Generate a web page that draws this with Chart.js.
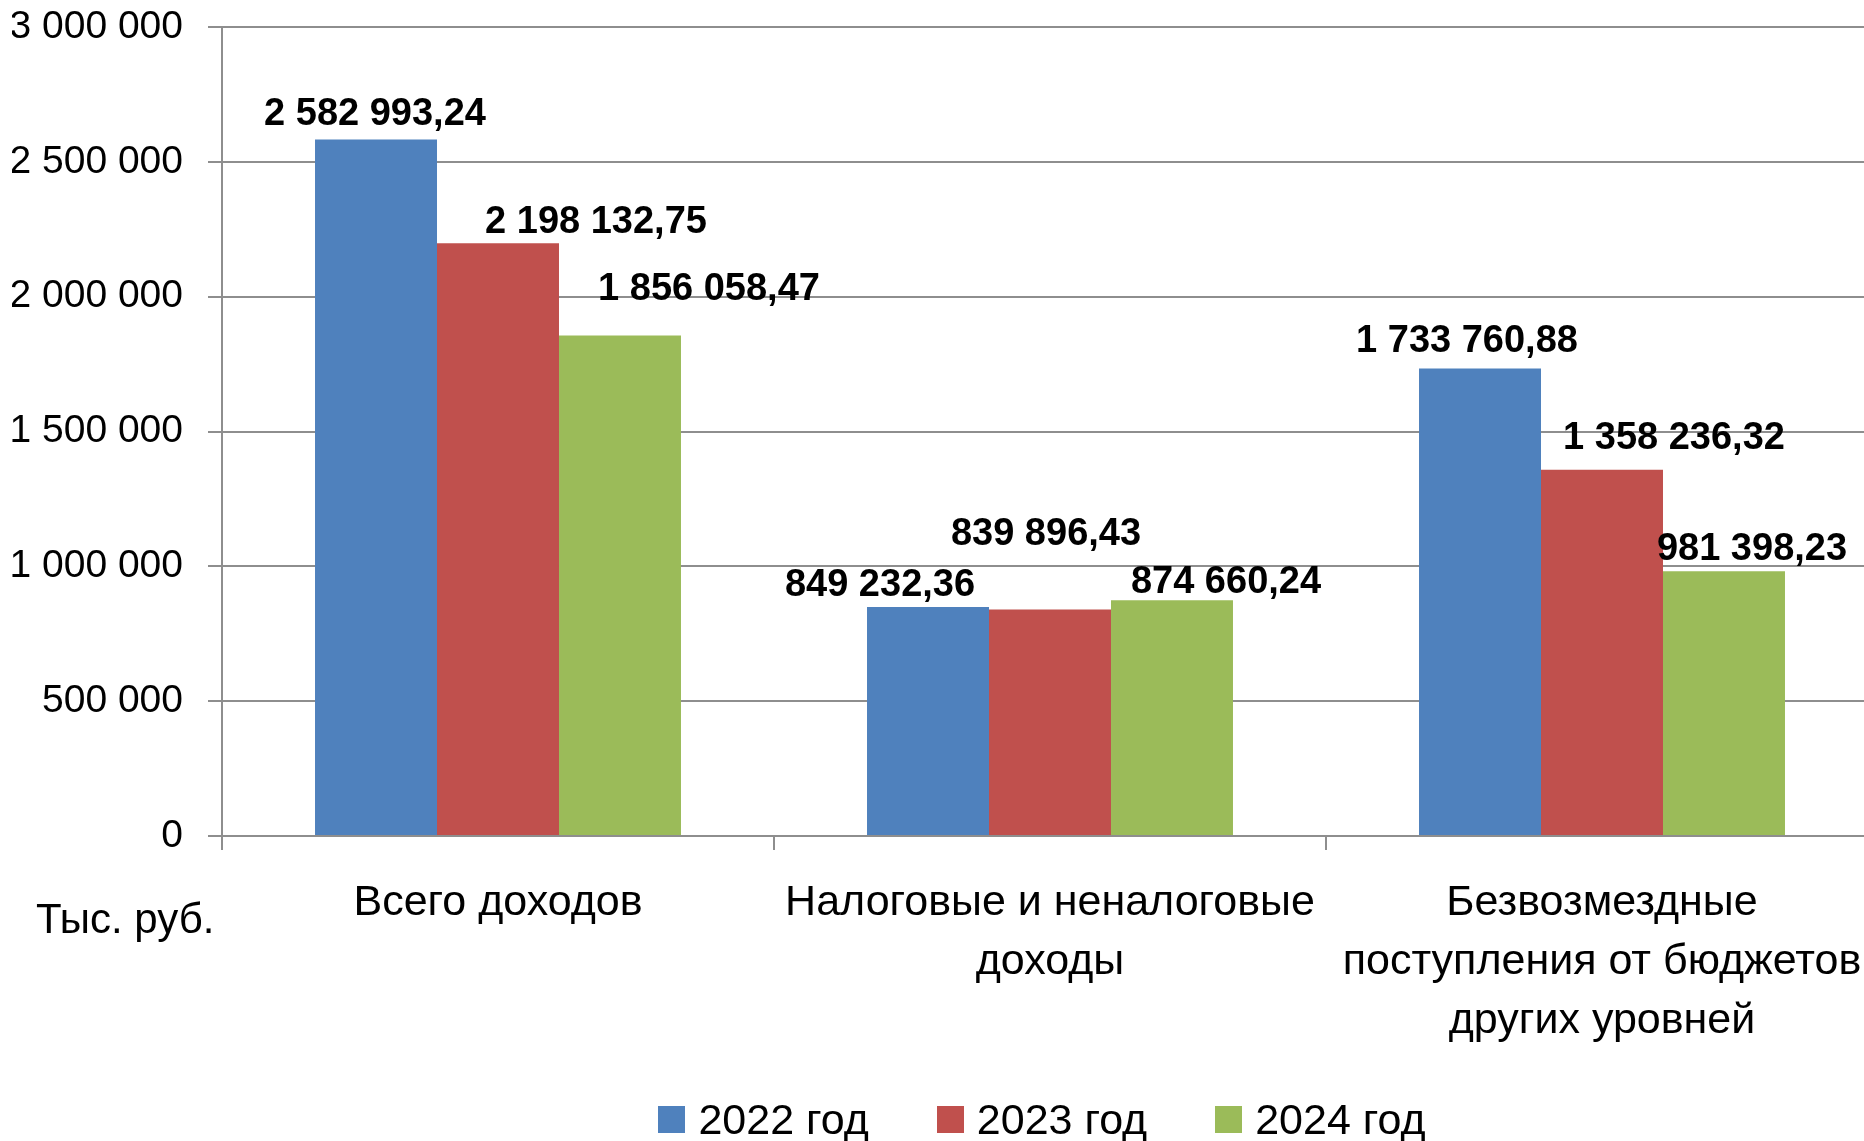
<!DOCTYPE html>
<html>
<head>
<meta charset="utf-8">
<script src="https://cdn.jsdelivr.net/npm/chart.js@4"></script>
<style>
  body { margin: 0; background: #fff; overflow: hidden; }
  #wrap { position: relative; width: 1900px; height: 1141px; }
  #canvasChart { display: block; }
  #unit { position: absolute; left: 36px; top: 894px; font: 42px/50px "Liberation Sans", Arial, sans-serif; color: #000; }
  #legend { position: absolute; left: 0; top: 1094px; width: 2084px; display: flex; justify-content: center;
            font: 43px/50px "Liberation Sans", Arial, sans-serif; color: #000; }
  #legend span.item { display: flex; align-items: center; margin: 0 34px; }
  #legend span.box { display: inline-block; width: 27px; height: 27px; margin-right: 13px; }
</style>
</head>
<body>
<div id="wrap">
  <canvas id="canvasChart" width="1900" height="1141"></canvas>
  <div id="unit">Тыс. руб.</div>
  <div id="legend"></div>
</div>
<script>
// categories and series
const categories = [
    ['Всего доходов'],
    ['Налоговые и неналоговые', 'доходы'],
    ['Безвозмездные', 'поступления от бюджетов', 'других уровней']
];
const years = ['2022 год', '2023 год', '2024 год'];
const values2022 = [2582993.24, 849232.36, 1733760.88];
const values2023 = [2198132.75, 839896.43, 1358236.32];
const values2024 = [1856058.47, 874660.24, 981398.23];
const yMax = 3000000;
const yStep = 500000;

const colors = ['#4F81BD', '#C0504D', '#9BBB59'];
// label nudges [dx, dy above bar top], as placed in the original
const labelShift = [
    [[-1, 25], [-48, 21], [-13, 27]],
    [[98, 21], [-4, 75], [72, 31]],
    [[89, 46], [54, 18], [28, 22]]
];

const fmt = (v, dec) => {
    let parts = v.toFixed(dec).split('.');
    parts[0] = parts[0].replace(/\B(?=(\d{3})+(?!\d))/g, ' ');
    return parts.join(',');
};

// legend
let legendHtml = "";
years.forEach((y, i) => {
    legendHtml += "<span class='item'><span class='box' style='background:" + colors[i] + "'></span>" + y + "</span>";
});
document.getElementById('legend').innerHTML = legendHtml;

const barLabels = {
    id: 'barLabels',
    afterDatasetsDraw(chart) {
        const ctx = chart.ctx;
        ctx.save();
        ctx.font = 'bold 38px "Liberation Sans", Arial, sans-serif';
        ctx.fillStyle = '#000';
        ctx.textAlign = 'center';
        ctx.textBaseline = 'middle';
        chart.data.datasets.forEach((ds, i) => {
            chart.getDatasetMeta(i).data.forEach((bar, j) => {
                const s = labelShift[i][j];
                ctx.fillText(fmt(ds.data[j], 2), bar.x + s[0], bar.y - s[1]);
            });
        });
        ctx.restore();
    }
};

const gridColor = '#8e8e8e';
const font = '"Liberation Sans", Arial, sans-serif';
const plotTop = 27, plotBottom = 836;

let ctx = document.getElementById('canvasChart').getContext('2d');
const phChart = new Chart(ctx, {
    type: 'bar',
    data: {
        labels: categories,
        datasets: [values2022, values2023, values2024].map((vals, i) => ({
            label: years[i],
            data: vals,
            backgroundColor: colors[i],
            borderWidth: 0,
            categoryPercentage: 0.663,
            barPercentage: 1
        }))
    },
    options: {
        responsive: false,
        animation: false,
        layout: { padding: { left: 12, right: 22, top: 27, bottom: 96 } },
        plugins: {
            tooltip: { enabled: false },
            legend: { display: false }
        },
        scales: {
            x: {
                grid: { drawOnChartArea: false, drawTicks: true, tickLength: 14, color: gridColor, lineWidth: 2 },
                border: { display: true, color: gridColor, width: 2 },
                ticks: {
                    color: '#000',
                    padding: 24,
                    maxRotation: 0,
                    autoSkip: false,
                    font: { family: font, size: 43, lineHeight: 1.372 }
                }
            },
            y: {
                min: 0,
                max: yMax,
                afterFit: (scale) => {
                    scale.width = 210;
                    scale.paddingTop = 0;
                    scale.paddingBottom = 0;
                },
                grid: { color: gridColor, lineWidth: 2, tickLength: 14 },
                border: { display: true, color: gridColor, width: 2 },
                ticks: {
                    stepSize: yStep,
                    color: '#000',
                    padding: 25,
                    font: { family: font, size: 39 },
                    callback: (v) => fmt(v, 0)
                }
            }
        }
    },
    plugins: [barLabels]
});

// fit the plot area to the original's frame
const area = phChart.chartArea;
const pad = phChart.options.layout.padding;
phChart.options.layout.padding = {
    left: pad.left,
    right: pad.right,
    top: pad.top + plotTop - area.top,
    bottom: pad.bottom + area.bottom - plotBottom
};
phChart.update();
</script>
</body>
</html>
